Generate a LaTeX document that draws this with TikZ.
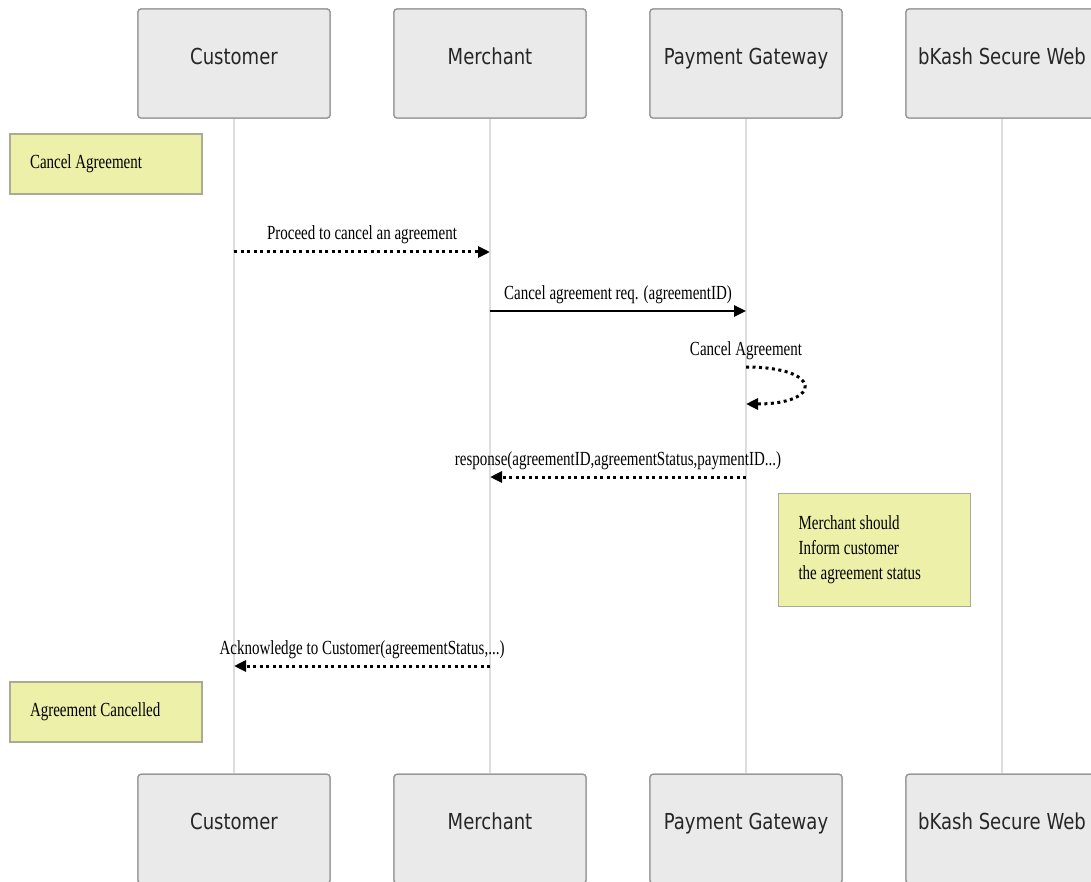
\documentclass[tikz,border=0pt]{standalone}
\usepackage{fontspec}
\usetikzlibrary{arrows.meta}
\newfontfamily\actorfont[FakeStretch=0.82]{DejaVu Sans}
\newfontfamily\msgfont[FakeStretch=0.75]{Liberation Serif}
\definecolor{actorfill}{RGB}{234,234,234}
\definecolor{actorline}{RGB}{150,150,150}
\definecolor{notefill}{RGB}{236,240,168}
\definecolor{noteline}{RGB}{170,170,150}
\definecolor{lifeline}{RGB}{221,221,221}

\begin{document}
\begin{tikzpicture}[x=1pt,y=-1pt,>={Triangle[length=12pt,width=11pt]},
    actor/.style={rectangle,rounded corners=3pt,draw=actorline,fill=actorfill,line width=1.3pt,
        minimum width=192pt,minimum height=109pt,inner sep=0pt,text=black!85,
        font=\actorfont\fontsize{22}{26}\selectfont,text height=16pt,text depth=14.4pt},
    note/.style={rectangle,draw=noteline,fill=notefill,line width=1.3pt,minimum width=192pt,
        inner xsep=20pt,text width=152pt,align=left,font=\msgfont\fontsize{20}{25}\selectfont,
        execute at begin node={\spaceskip=0pt\xspaceskip=0pt}},
    life/.style={draw=lifeline,line width=1.5pt},
    dotmsg/.style={line width=3pt,dash pattern=on 3pt off 3.5pt},
    solidmsg/.style={line width=2.8pt},
    msglabel/.style={anchor=base,yshift=12pt,font=\msgfont\fontsize{20}{24}\selectfont}]
        \useasboundingbox (0,0) rectangle (1091,882);

        % participants and their lifelines
        \foreach \n/\x/\t in {cust/234/Customer, merch/490/Merchant,
                pg/746/Payment Gateway, bk/1002/bKash Secure Web} {
                \node[actor] (\n-top) at (\x,63.5) {\t};
                \node[actor] (\n-bot) at (\x,828.8) {\t};
                \draw[life] (\n-top) -- (\n-bot);
        }
        % redraw boxes over the lifelines
        \foreach \n/\x/\t in {cust/234/Customer, merch/490/Merchant,
                pg/746/Payment Gateway, bk/1002/bKash Secure Web} {
                \node[actor] at (\x,63.5) {\t};
                \node[actor] at (\x,828.8) {\t};
        }

        % message rows
        \coordinate (r1) at (0,252);
        \coordinate (r2) at (0,311);
        \coordinate (r3) at (0,367);
        \coordinate (r3b) at (0,404);
        \coordinate (r4) at (0,477);
        \coordinate (r5) at (0,666);

        % notes
        \node[note,minimum height=60pt] (start) at (106,164) {Cancel Agreement};
        \node[note,minimum height=113pt] (inform) at (874.5,550)
                {Merchant should\\Inform customer\\the agreement status};
        \node[note,minimum height=60pt] (done) at (106,712) {Agreement Cancelled};

        % messages
        \draw[dotmsg,->] (cust-top |- r1) -- node[msglabel] {Proceed to cancel an agreement} (merch-top |- r1);
        \draw[solidmsg,->] (merch-top |- r2) -- node[msglabel] {Cancel agreement req. (agreementID)} (pg-top |- r2);
        \draw[dotmsg,->] (pg-top |- r3) node[msglabel] {Cancel Agreement}
                .. controls +(77,0) and +(77,0) .. (pg-top |- r3b);
        \draw[dotmsg,->] (pg-top |- r4) -- node[msglabel] {response(agreementID,agreementStatus,paymentID...)} (merch-top |- r4);
        \draw[dotmsg,->] (merch-top |- r5) -- node[msglabel] {Acknowledge to Customer(agreementStatus,...)} (cust-top |- r5);
\end{tikzpicture}
\end{document}
